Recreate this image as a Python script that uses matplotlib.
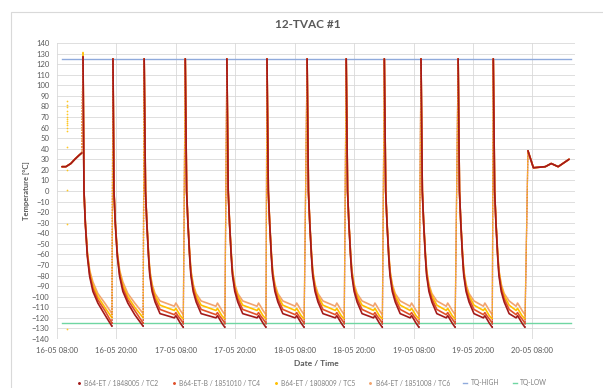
import matplotlib.pyplot as plt
from matplotlib.lines import Line2D
from matplotlib.patches import Rectangle

plt.rcParams['font.family'] = ['Lato', 'DejaVu Sans']

# hours after 16-05 08:00
peak_hours = [5.25, 11.3, 17.6, 25.9, 34.3, 42.4, 50.5, 58.4, 66.1, 73.5, 81.0, 88.1]
end_hours = [11.1, 17.4, 25.5, 33.9, 42.2, 49.9, 58.0, 65.7, 73.1, 80.4, 87.9, 94.5]

# first two cycles: offsets after the peak, last value sits at the cycle end
short_offsets = [0, 0.2, 0.47, 0.88, 1.35, 2.0, 3.0, 4.4]
# later cycles: head after the peak, tail before the cycle end
long_head = [0, 0.27, 0.54, 0.88, 1.14, 1.6, 2.2, 3.2]
long_tail = [1.8, 1.5, 1.1, 0.6, 0]

names = ['B64-ET / 1848005 / TC2', 'B64-ET-B / 1851010 / TC4',
         'B64-ET / 1808009 / TC5', 'B64-ET / 1851008 / TC6']
colors = ['#A31A1A', '#E0502A', '#FFC000', '#F2A46E']

short_vals = [
    [125, 0, -31, -62, -81, -95, -106, -117, -128],
    [125, 0, -30, -60, -79, -92, -103, -113, -125],
    [125, 0, -30, -59, -77, -89, -100, -110, -120],
    [125, 0, -29, -58, -75, -86, -97, -106, -116],
]
head_vals = [
    [125, 0, -31, -62, -80, -95, -105, -116],
    [125, 0, -30, -60, -78, -92, -102, -112],
    [125, 0, -30, -59, -76, -90, -99, -108],
    [125, 0, -29, -58, -75, -88, -97, -104],
]
tail_vals = [
    [-120, -118, -121, -125, -129],
    [-117, -115, -118, -121, -125],
    [-113, -111, -114, -118, -121],
    [-109, -106, -109, -113, -117],
]
first_peak = [127, 127, 131, 127]

# warm start and warm end (same for all sensors)
start_t = [1.0, 1.8, 2.8, 3.6, 4.5, 5.0]
start_v = [23, 23, 26, 30, 34, 36]
final_t = [95.1, 96.2, 98.6, 99.8, 101.2, 103.4]
final_v = [38, 22, 23, 26, 23, 30]

# stray TC5 readings at the start
stray_t = [2.0] * 17
stray_v = [85, 81, 79, 76, 73, 70, 68, 66, 64, 62, 60, 57, 42, 20, 1, -31, -131]

tq_t = [1.0, 103.8]
tq_high = 125
tq_low = -125

tick_labels = ['16-05 08:00', '16-05 20:00', '17-05 08:00', '17-05 20:00', '18-05 08:00',
               '18-05 20:00', '19-05 08:00', '19-05 20:00', '20-05 08:00']

fig = plt.figure(figsize=(6.03, 3.88), dpi=100)
ax = fig.add_axes([57 / 603, 1 - 339 / 388, 518 / 603, 296 / 388])

grey = '#595959'
for k in [3, 2, 1, 0]:
    c = colors[k]
    solid = dict(color=c, lw=1.2, zorder=3 + (3 - k), solid_capstyle='round')
    dotted = dict(color=c, lw=0.9, ls=(0, (1, 1.2)), zorder=3 + k)
    ax.plot(start_t, start_v, **solid)
    ax.plot([start_t[-1], peak_hours[0]], [start_v[-1], first_peak[k]], **dotted)
    for i, p in enumerate(peak_hours):
        e = end_hours[i]
        if i < 2:
            xs = [p + o for o in short_offsets] + [e]
            ys = list(short_vals[k])
            ys[0] = first_peak[k] if i == 0 else 125
        else:
            xs = [p + o for o in long_head] + [e - o for o in long_tail]
            ys = head_vals[k] + tail_vals[k]
        ax.plot(xs, ys, **solid)
        if i + 1 < len(peak_hours):
            ax.plot([e, peak_hours[i + 1]], [ys[-1], 125], **dotted)
        else:
            ax.plot([e, final_t[0]], [ys[-1], final_v[0]], **dotted)
    ax.plot(final_t, final_v, **solid)

ax.scatter(stray_t, stray_v, s=1.6, color=colors[2], alpha=0.85, lw=0, zorder=4)

ax.plot(tq_t, [tq_high] * 2, color='#8FAADC', lw=1.0, zorder=2)
ax.plot(tq_t, [tq_low] * 2, color='#6FD6A2', lw=1.0, zorder=2)

ax.set_xlim(0, 104.6)
ax.set_ylim(-140, 140)
ax.set_yticks(range(-140, 141, 10))
ax.set_xticks([12 * i for i in range(len(tick_labels))])
ax.set_xticklabels(tick_labels)
ax.grid(True, color='#D9D9D9', lw=0.6, zorder=0)
ax.set_axisbelow(True)
for s in ax.spines.values():
    s.set_visible(False)
ax.tick_params(length=0, labelsize=5.5, labelcolor=grey)
ax.tick_params(axis='y', pad=5.5)
ax.tick_params(axis='x', pad=6)

fig.text(0.51, 1 - 25 / 388, '12-TVAC #1', ha='center', va='center',
         fontsize=8.5, fontweight='bold', color=grey)
fig.text(27 / 603, 1 - 191 / 388, 'Temperature [°C]', rotation=90, ha='center',
         va='center', fontsize=5.5, fontweight='bold', color=grey)
fig.text(316 / 603, 1 - 363 / 388, 'Date / Time', ha='center', va='center',
         fontsize=6, fontweight='bold', color=grey)

handles = [Line2D([], [], color=c, lw=0, marker='.', markersize=2.2) for c in colors]
handles += [Line2D([], [], color='#8FAADC', lw=1.0),
            Line2D([], [], color='#6FD6A2', lw=1.0)]
labels = names + ['TQ-HIGH', 'TQ-LOW']
leg = fig.legend(handles, labels, loc='center', bbox_to_anchor=(312 / 603, 1 - 383 / 388),
                 ncol=6, fontsize=4.8, frameon=False, handlelength=0.6,
                 handletextpad=0.5, columnspacing=2.0, borderaxespad=0)
for t in leg.get_texts():
    t.set_color('#7F7F7F')

fig.add_artist(Rectangle((11 / 603, -0.1), 1.0, 1.1 - 12 / 388, transform=fig.transFigure,
                         fill=False, edgecolor='#D9D9D9', lw=0.8))

fig.savefig('out.png', dpi=100)
